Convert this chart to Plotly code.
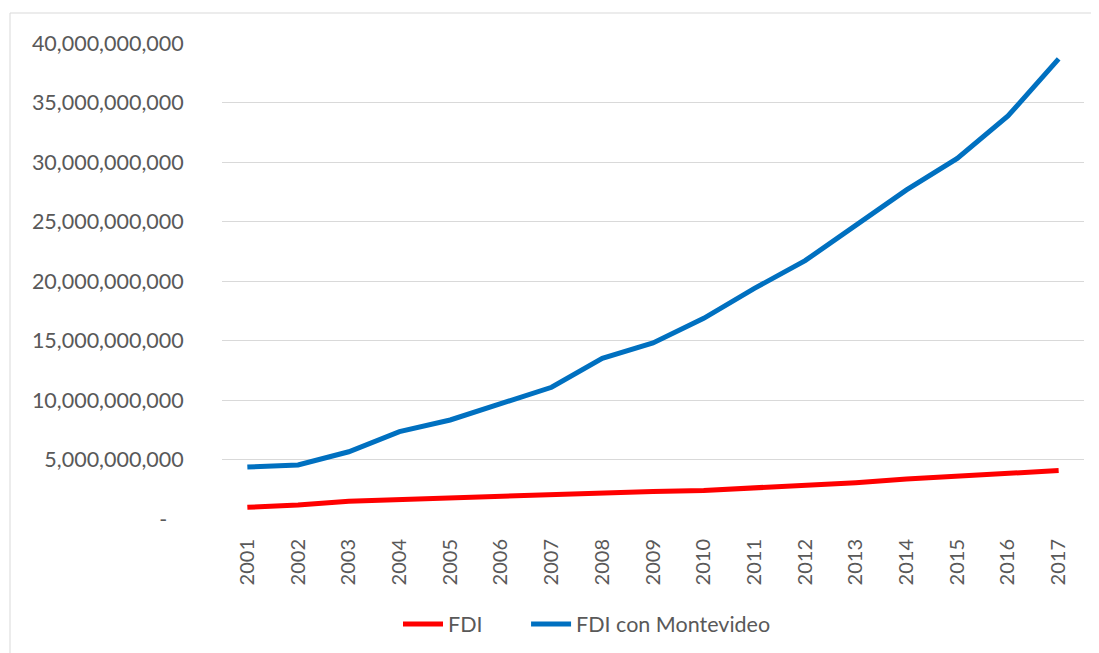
import plotly.graph_objects as go

years = ["2001", "2002", "2003", "2004", "2005", "2006", "2007", "2008", "2009",
         "2010", "2011", "2012", "2013", "2014", "2015", "2016", "2017"]
fdi = [0.98e9, 1.18e9, 1.50e9, 1.65e9, 1.79e9, 1.93e9, 2.07e9, 2.23e9, 2.32e9,
       2.40e9, 2.60e9, 2.78e9, 3.05e9, 3.36e9, 3.63e9, 3.85e9, 4.07e9]
fdi_mvd = [4.36e9, 4.54e9, 5.65e9, 7.34e9, 8.32e9, 9.72e9, 11.07e9, 13.5e9, 14.8e9,
           16.86e9, 19.38e9, 21.71e9, 24.7e9, 27.65e9, 30.3e9, 33.87e9, 38.66e9]
series_names = ["FDI", "FDI con Montevideo"]
y_tickvals = [0, 5e9, 10e9, 15e9, 20e9, 25e9, 30e9, 35e9, 40e9]
y_ticktext = ["-\u00a0\u00a0\u00a0", "5,000,000,000", "10,000,000,000", "15,000,000,000",
              "20,000,000,000", "25,000,000,000", "30,000,000,000", "35,000,000,000",
              "40,000,000,000"]

FONT = "Lato, 'Open Sans', sans-serif"
GRAY = "#595959"
GRID = "#d9d9d9"
PAD = "\u00a0" * 7  # spacing between legend entries

fig = go.Figure()
fig.add_trace(go.Scatter(x=years, y=fdi, mode="lines", name=series_names[0] + PAD,
                         line=dict(color="#FF0000", width=5)))
fig.add_trace(go.Scatter(x=years, y=fdi_mvd, mode="lines", name=series_names[1],
                         line=dict(color="#0070C0", width=5)))

# page body has an 8px margin; figure coordinates are offset by it
OFF = 8
W, H = 1099 - OFF, 653 - OFF
L, T = 222 - OFF, 43 - OFF
R = W - (1084 - OFF)
B = H - (519 - OFF)
pw, ph = W - L - R, H - T - B
bottom = 519 - OFF

fig.update_layout(
    width=W, height=H,
    margin=dict(l=L, r=R, t=T, b=B, pad=0, autoexpand=False),
    paper_bgcolor="white", plot_bgcolor="white",
    font=dict(family=FONT, color=GRAY, size=20),
    showlegend=True,
    legend=dict(orientation="h", x=(398 - OFF - L) / pw, xanchor="left",
                y=(bottom - (624 - OFF)) / ph, yanchor="middle",
                font=dict(size=21.5, color=GRAY),
                itemwidth=40, bgcolor="rgba(0,0,0,0)"),
    xaxis=dict(type="category", range=[-0.5, len(years) - 0.5], automargin=False,
               showgrid=False, showline=False, zeroline=False,
               tickangle=-90, ticks="outside", ticklen=0, ticklabelstandoff=11,
               tickfont=dict(size=20, color=GRAY, family=FONT)),
    yaxis=dict(range=[0, 40e9], tickvals=y_tickvals, ticktext=y_ticktext, automargin=False,
               showgrid=True, gridcolor=GRID, gridwidth=1, zeroline=False,
               showline=False, ticks="outside", ticklen=0, ticklabelstandoff=33,
               tickfont=dict(size=21.5, color=GRAY, family=FONT)),
    shapes=[dict(type="rect", xref="paper", yref="paper",
                 x0=(10 - OFF - L) / pw, x1=(W + 5 - L) / pw,
                 y0=(bottom - (H + 10)) / ph, y1=(bottom - (13 - OFF)) / ph,
                 line=dict(color=GRID, width=1), fillcolor="rgba(0,0,0,0)", layer="below")],
)

fig.write_html("out.html")
